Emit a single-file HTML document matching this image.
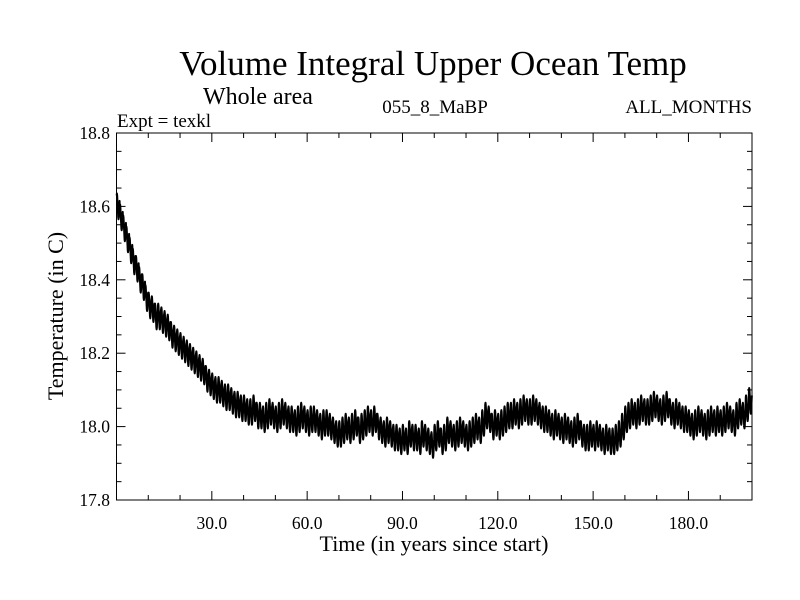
<!DOCTYPE html>
<html><head><meta charset="utf-8"><style>
html,body{margin:0;padding:0;background:#fff;}
svg{display:block;font-family:"Liberation Serif",serif;}
</style></head><body>
<svg id="chart" width="800" height="600" viewBox="0 0 800 600" xmlns="http://www.w3.org/2000/svg">
<rect width="800" height="600" fill="#fff"/>
<text x="433" y="75" font-size="35" text-anchor="middle">Volume Integral Upper Ocean Temp</text>
<text x="203" y="104" font-size="24">Whole area</text>
<text x="117" y="127" font-size="19">Expt = texkl</text>
<text x="435" y="113" font-size="19" text-anchor="middle">055_8_MaBP</text>
<text x="752" y="113" font-size="19" text-anchor="end">ALL_MONTHS</text>
<text transform="translate(63,316) rotate(-90)" font-size="22" text-anchor="middle">Temperature (in C)</text>
<text x="434" y="551" font-size="22" text-anchor="middle">Time (in years since start)</text>
<g id="axes"></g>
<g id="series"></g>
</svg>
<script>
const xTicks=[30,60,90,120,150,180];
const xTickLabels=["30.0","60.0","90.0","120.0","150.0","180.0"];
const yTicks=[17.8,18.0,18.2,18.4,18.6,18.8];
const yTickLabels=["17.8","18.0","18.2","18.4","18.6","18.8"];
const annualMean=[18.60,18.57,18.54,18.51,18.48,18.45,18.43,18.40,18.38,18.35,
18.33,18.32,18.30,18.30,18.29,18.28,18.27,18.25,18.24,18.23,
18.22,18.21,18.20,18.19,18.18,18.17,18.16,18.15,18.13,18.12,
18.11,18.10,18.10,18.09,18.08,18.08,18.07,18.06,18.06,18.05,
18.05,18.04,18.04,18.05,18.03,18.03,18.02,18.03,18.04,18.03,
18.02,18.03,18.04,18.03,18.02,18.02,18.01,18.02,18.03,18.02,
18.01,18.02,18.02,18.01,18.00,18.01,18.01,18.00,17.99,17.98,
17.98,17.99,18.00,17.99,18.00,18.01,17.99,18.00,18.01,18.02,
18.01,18.02,18.00,17.99,17.98,17.99,17.98,17.97,17.97,17.96,
17.97,17.96,17.98,17.97,17.97,17.96,17.98,17.97,17.96,17.95,
17.97,17.98,17.96,17.97,17.99,17.98,17.97,17.98,17.99,17.98,
17.97,17.98,17.99,18.00,17.99,18.01,18.03,18.02,18.00,18.01,
18.00,18.01,18.02,18.03,18.03,18.04,18.03,18.04,18.05,18.04,
18.04,18.05,18.04,18.03,18.02,18.02,18.01,18.00,18.01,18.00,
17.99,18.00,17.99,17.98,17.99,18.00,17.98,17.97,17.97,17.98,
17.97,17.98,17.97,17.96,17.97,17.96,17.96,17.97,17.98,18.00,
18.02,18.03,18.04,18.03,18.04,18.05,18.04,18.04,18.05,18.06,
18.05,18.04,18.05,18.06,18.04,18.03,18.04,18.03,18.02,18.02,
18.01,18.00,18.01,18.02,18.01,18.00,18.01,18.02,18.01,18.02,
18.01,18.02,18.03,18.02,18.01,18.03,18.04,18.03,18.05,18.07];
const seasonalCycle=[0.03,0.035,0.03,0.015,0,-0.015,-0.03,-0.035,-0.03,-0.015,0,0.015];

const NS="http://www.w3.org/2000/svg";
const L=116.5,R=752,T=133,B=500,X0=0,X1=200,Y0=17.8,Y1=18.8;
const xs=v=>L+(v-X0)/(X1-X0)*(R-L);
const ys=v=>B-(v-Y0)/(Y1-Y0)*(B-T);
function mk(tag,attrs,parent){const e=document.createElementNS(NS,tag);for(const k in attrs)e.setAttribute(k,attrs[k]);parent.appendChild(e);return e;}
const axes=document.getElementById('axes');
const frame=mk('rect',{x:L,y:T,width:R-L,height:B-T,fill:'none',stroke:'#000','stroke-width':1},axes);


for(let v=10;v<200;v+=10){
  const major=v%30===0, len=major?9:5, x=xs(v);
  const t1=mk('line',{x1:x,x2:x,y1:B,y2:B-len,stroke:'#000'},axes);
  
  
  const t2=mk('line',{x1:x,x2:x,y1:T,y2:T+len,stroke:'#000'},axes);
  
  
}
for(let i=1;i<20;i++){
  const v=Y0+i*0.05, major=i%4===0, len=major?9:5, y=ys(v);
  const t1=mk('line',{x1:L,x2:L+len,y1:y,y2:y,stroke:'#000'},axes);
  
  
  const t2=mk('line',{x1:R,x2:R-len,y1:y,y2:y,stroke:'#000'},axes);
  
  
}
xTicks.forEach((v,i)=>{
  const t=mk('text',{x:xs(v),y:529,'font-size':17.5,'text-anchor':'middle'},axes);
  t.textContent=xTickLabels[i];
  
  
});
yTicks.forEach((v,i)=>{
  const t=mk('text',{x:110,y:ys(v)+6,'font-size':17.5,'text-anchor':'end'},axes);
  t.textContent=yTickLabels[i];
  
  
});
let d='';
annualMean.forEach((m,yr)=>{
  seasonalCycle.forEach((c,mo)=>{
    const t=yr+(mo+0.5)/12;
    if(t>X1)return;
    d+=(d?'L':'M')+xs(t).toFixed(2)+','+ys(m+c).toFixed(2);
  });
});
const p=mk('path',{d:d,fill:'none',stroke:'#000','stroke-width':2,'stroke-linejoin':'round'},document.getElementById('series'));


</script>
</body></html>
